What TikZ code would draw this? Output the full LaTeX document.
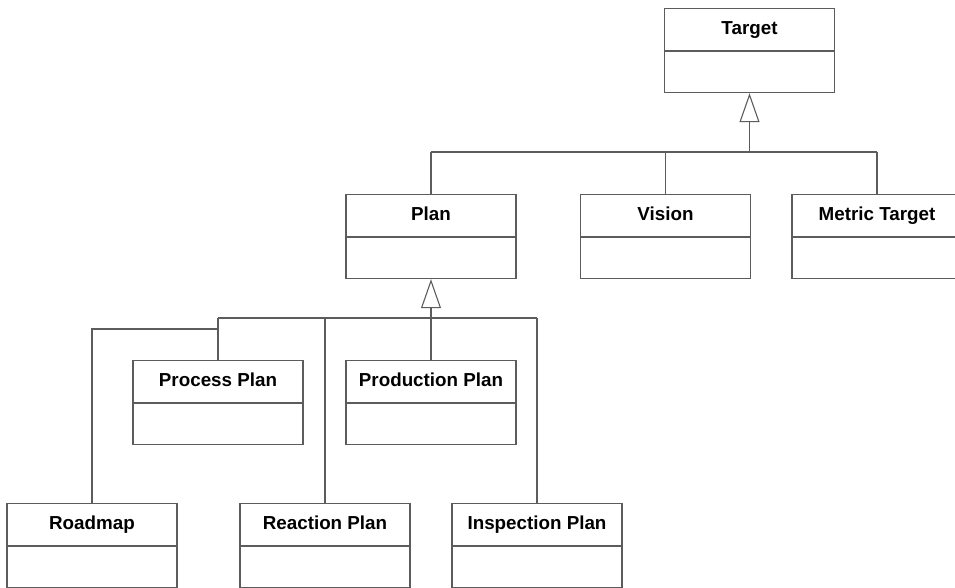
\documentclass[tikz,border=0pt]{standalone}
\usepackage{fontspec}
\setmainfont{Liberation Sans}
\usetikzlibrary{positioning,arrows.meta}

\begin{document}
\begin{tikzpicture}[x=1pt, y=-1pt,
  classhead/.style={draw=umlline, line width=1.1pt, fill=white, anchor=north,
    minimum width=\classwidth, minimum height=42pt, inner sep=0pt,
    text height=13.5pt, text depth=3pt,
    font=\fontsize{18.8}{22}\selectfont\bfseries},
  classbody/.style={draw=umlline, line width=1.1pt, fill=white,
    minimum width=\classwidth, minimum height=41pt, inner sep=0pt},
  wire/.style={draw=umlline, line width=1.1pt},
  inherit/.style={wire, -{Triangle[open, length=29pt, width=20pt, line width=1.1pt]}}]

%─────────────
% Controls
%─────────────
\def\classwidth{170pt}  % width of every class box
\definecolor{umlline}{rgb}{0.36,0.36,0.36}  % grey for boxes and wires

%─────────────────────────────────────────────────────────────
% A class box: name row on top, empty row below
%─────────────────────────────────────────────────────────────
\newcommand{\umlClass}[4]{%
  \node[classhead] (#1) at (#2,#3) {#4};
  \node[classbody, below=0pt of #1] (#1-body) {};
}

\useasboundingbox (0,0) rectangle (955,588);

%─────────────
% Classes
%─────────────
\umlClass{target}{749.5}{8}{Target}

\umlClass{plan}{431}{194}{Plan}
\umlClass{vision}{665.5}{194}{Vision}
\umlClass{metric}{877}{194}{Metric Target}

\umlClass{process}{218}{360}{Process Plan}
\umlClass{production}{431}{360}{Production Plan}

\umlClass{roadmap}{92}{502.5}{Roadmap}
\umlClass{reaction}{325}{503}{Reaction Plan}
\umlClass{inspection}{537}{503}{Inspection Plan}

%─────────────
% Target generalization
%─────────────
\coordinate (tbar) at (749.5,152);
\draw[wire] (tbar -| plan.north) -- (tbar -| metric.north);
\foreach \c in {plan,vision,metric} {
  \draw[wire] (tbar -| \c.north) -- (\c.north);
}
\draw[inherit] (tbar) -- (target-body.south);

%─────────────
% Plan generalization
%─────────────
\coordinate (pbar) at (431,318);
\coordinate (rbend) at (218,329);
\draw[wire] (pbar -| process.north) -- (pbar -| inspection.north);
\foreach \c in {process,reaction,production,inspection} {
  \draw[wire] (pbar -| \c.north) -- (\c.north);
}
\draw[wire] (rbend) -| (roadmap.north);  % Roadmap hangs off the Process Plan drop
\draw[inherit] (pbar) -- (plan-body.south);
\end{tikzpicture}
\end{document}
